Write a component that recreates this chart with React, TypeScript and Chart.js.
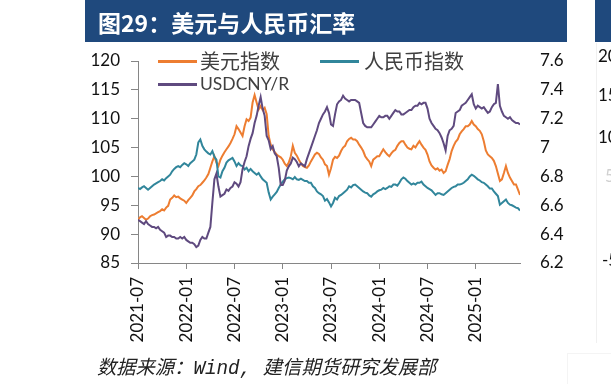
import React, { useEffect, useRef } from "react";
import { Chart, registerables } from "chart.js";

Chart.register(...registerables);

// x-axis tick labels, one every 6 months starting 2021-07
const TICK_LABELS = ["2021-07", "2022-01", "2022-07", "2023-01", "2023-07", "2024-01", "2024-07", "2025-01"];
const MONTHS_PER_TICK = 6;
const POINTS_PER_MONTH = 4; // weekly samples
const X_MAX_MONTHS = 47.5;

const LEFT_TICKS = { min: 85, max: 120, step: 5 };
const RIGHT_TICKS = { min: 6.2, max: 7.6, step: 0.2 };

// 美元指数 (left axis), weekly
const USD_INDEX = [
  92.5, 92.9, 93.1, 92.8, 92.5, 92.7, 93.1, 93.3, 93.4, 93.6, 93.8, 94.0,
  94.3, 94.1, 94.6, 94.9, 96.0, 96.3, 96.7, 96.4, 96.5, 96.2, 96.0, 95.8,
  95.4, 95.9, 96.3, 96.7, 97.4, 97.8, 98.3, 98.5, 98.9, 99.3, 99.8, 100.4,
  101.5, 102.6, 103.5, 102.4, 101.8, 102.9, 103.6, 104.2, 104.7, 105.2, 105.8, 106.5,
  107.3, 108.7, 108.2, 107.6, 107.0, 108.7, 109.9, 109.6, 110.2, 112.8, 114.1, 112.8,
  111.6, 112.2, 111.5, 111.9, 110.8, 107.0, 105.5, 104.7, 104.2, 103.8, 103.5, 103.3,
  102.9, 102.2, 101.8, 102.4, 103.5, 105.3, 104.1, 103.6, 102.9, 102.3, 101.8, 101.6,
  101.5, 101.9, 102.6, 103.2, 103.8, 104.1, 103.9, 103.3, 102.9, 102.1, 101.8, 100.3,
  101.4, 102.9, 103.4, 103.2, 103.6, 104.4, 105.0, 105.3, 106.1, 106.5, 106.7, 106.4,
  106.4, 106.1, 105.5, 105.0, 104.4, 103.5, 103.0, 102.6, 101.8, 102.9, 103.2, 103.5,
  103.5, 104.1, 104.7, 104.2, 103.8, 103.5, 104.0, 104.4, 104.6, 105.3, 105.8, 106.1,
  106.1, 105.5, 105.0, 104.8, 104.7, 105.3, 105.0, 105.6, 106.1, 105.5, 105.0, 104.6,
  103.8, 102.6, 101.9, 101.5, 101.2, 101.4, 101.0, 101.2, 100.6, 100.9, 102.0, 103.0,
  104.4, 105.3, 106.0, 106.4, 107.3, 107.8, 108.2, 108.7, 108.7, 109.0, 109.6, 109.0,
  108.7, 108.2, 107.9, 107.3, 106.1, 104.5, 103.8, 103.5, 103.2, 102.7, 101.8, 100.5,
  99.2, 99.5, 100.6, 101.8, 100.6, 99.8, 99.2, 98.6, 98.6, 97.7, 96.8,
];

// 人民币指数 (left axis), weekly
const RMB_INDEX = [
  98.0, 97.8, 98.1, 98.3, 98.0, 97.7, 98.0, 98.3, 98.6, 98.8, 99.0, 99.2,
  99.5, 99.3, 99.7, 100.0, 100.3, 100.9, 101.3, 101.6, 101.8, 101.6, 102.0, 102.3,
  102.1, 101.8, 102.3, 102.6, 102.9, 103.8, 105.9, 106.4, 105.3, 104.7, 104.3, 104.0,
  103.8, 104.4, 103.4, 102.9, 100.0, 99.8, 100.9, 101.5, 102.4, 102.8, 103.0, 103.2,
  102.6, 101.8, 102.3, 101.9, 101.8, 101.2, 101.5, 100.9, 101.3, 100.9, 100.6, 100.3,
  100.6, 100.0, 99.5, 99.2, 98.9, 97.2, 96.0, 96.5, 96.9, 97.3, 98.0, 98.6,
  99.1, 99.5, 99.7, 99.8, 99.7, 99.5, 99.9, 99.5, 99.4, 99.6, 99.4, 99.2,
  99.2, 98.9, 98.9, 98.3, 98.0, 97.4, 97.1, 96.9, 96.6, 95.8, 96.1, 95.5,
  94.8, 95.4, 96.3, 96.0, 96.6, 96.8, 97.1, 97.4, 97.7, 98.3, 98.1, 98.5,
  98.6, 98.3, 98.0, 97.7, 97.4, 97.2, 97.1, 96.7, 96.5, 96.9, 97.1, 97.4,
  97.6, 97.7, 98.0, 97.8, 98.0, 98.3, 98.2, 98.6, 98.6, 98.4, 98.9, 99.5,
  99.8, 99.6, 99.2, 98.9, 98.6, 98.8, 98.6, 98.9, 98.9, 99.1, 98.6, 98.3,
  98.0, 97.8, 97.6, 97.2, 96.8, 97.1, 97.1, 96.9, 96.8, 97.1, 97.4, 97.7,
  98.0, 98.2, 98.3, 98.6, 98.6, 98.7, 98.9, 99.2, 99.5, 100.0, 100.3, 100.1,
  99.8, 99.5, 99.3, 99.0, 98.9, 98.6, 98.3, 97.9, 97.9, 97.4, 97.0, 96.6,
  95.1, 95.4, 95.7, 96.0, 95.4, 95.1, 95.0, 94.8, 94.6, 94.5, 94.1,
];

// USDCNY/R (right axis), weekly
const USDCNY = [
  6.50, 6.49, 6.48, 6.47, 6.49, 6.47, 6.46, 6.45, 6.45, 6.44, 6.45, 6.43,
  6.42, 6.41, 6.38, 6.39, 6.39, 6.38, 6.38, 6.37, 6.37, 6.38, 6.37, 6.38,
  6.36, 6.35, 6.34, 6.34, 6.33, 6.31, 6.32, 6.36, 6.38, 6.37, 6.37, 6.41,
  6.45, 6.62, 6.78, 6.82, 6.73, 6.66, 6.67, 6.68, 6.71, 6.70, 6.72, 6.73,
  6.76, 6.75, 6.73, 6.76, 6.85, 6.90, 6.94, 7.01, 7.06, 7.10, 7.17, 7.22,
  7.29, 7.35, 7.27, 7.22, 7.08, 7.05, 6.99, 7.01, 6.96, 6.94, 6.86, 6.74,
  6.74, 6.77, 6.84, 6.87, 6.89, 6.93, 6.92, 6.90, 6.87, 6.89, 6.88, 6.87,
  6.92, 6.96, 7.00, 7.04, 7.08, 7.12, 7.17, 7.20, 7.23, 7.25, 7.28, 7.24,
  7.16, 7.15, 7.23, 7.30, 7.32, 7.33, 7.36, 7.34, 7.33, 7.32, 7.33, 7.33,
  7.33, 7.32, 7.31, 7.24, 7.17, 7.15, 7.14, 7.14, 7.14, 7.16, 7.18, 7.20,
  7.22, 7.21, 7.21, 7.22, 7.22, 7.20, 7.22, 7.24, 7.26, 7.25, 7.25, 7.23,
  7.23, 7.24, 7.25, 7.26, 7.26, 7.28, 7.29, 7.29, 7.31, 7.30, 7.31, 7.31,
  7.27, 7.20, 7.17, 7.15, 7.13, 7.12, 7.10, 7.07, 7.03, 6.98, 7.08, 7.12,
  7.13, 7.15, 7.24, 7.25, 7.26, 7.29, 7.30, 7.31, 7.33, 7.35, 7.37, 7.30,
  7.27, 7.29, 7.28, 7.27, 7.28, 7.26, 7.24, 7.25, 7.28, 7.30, 7.31, 7.44,
  7.29, 7.25, 7.22, 7.21, 7.20, 7.21, 7.19, 7.18, 7.17, 7.17, 7.16,
];

// neighbouring (cropped) chart's axis labels on the right edge
const NEXT_CHART_LABELS = ["20", "15", "10", "5", "-5"];

const ORANGE = "#ED7D31";
const TEAL = "#31869B";
const PURPLE = "#5F4A7F";
const NAVY = "#1F497D";
const AXIS_GREY = "#868686";
const TICK_FONT = "Lato, 'Noto Sans', 'Noto Sans CJK SC', sans-serif";
const CJK_FONT = "'Noto Sans CJK SC', 'Noto Sans', sans-serif";

export default function App() {
  const canvasRef = useRef<HTMLCanvasElement | null>(null);

  useEffect(() => {
    document.body.style.margin = "0";
    const canvas = canvasRef.current;
    if (!canvas) return;
    const toPoints = (arr: number[]) => arr.map((v, i) => ({ x: i / POINTS_PER_MONTH, y: v }));

    const chart = new Chart(canvas, {
      type: "line",
      data: {
        datasets: [
          { label: "美元指数", data: toPoints(USD_INDEX), borderColor: ORANGE, backgroundColor: ORANGE, yAxisID: "y", order: 3 },
          { label: "人民币指数", data: toPoints(RMB_INDEX), borderColor: TEAL, backgroundColor: TEAL, yAxisID: "y", order: 2 },
          { label: "USDCNY/R", data: toPoints(USDCNY), borderColor: PURPLE, backgroundColor: PURPLE, yAxisID: "y1", order: 1 },
        ],
      },
      options: {
        animation: false,
        responsive: false,
        maintainAspectRatio: false,
        devicePixelRatio: 1,
        layout: { padding: { top: 61, left: 0, right: 0, bottom: 0 } },
        plugins: { legend: { display: false }, tooltip: { enabled: false }, title: { display: false } },
        elements: {
          point: { radius: 0, hoverRadius: 0 },
          line: { borderWidth: 2, tension: 0 },
        },
        scales: {
          x: {
            type: "linear",
            min: 0,
            max: X_MAX_MONTHS,
            afterBuildTicks: (scale: any) => {
              scale.ticks = TICK_LABELS.map((_, i) => ({ value: i * MONTHS_PER_TICK }));
            },
            afterFit: (scale: any) => {
              scale.height = 121;
            },
            grid: { display: true, drawOnChartArea: false, drawTicks: true, tickLength: 6, color: AXIS_GREY },
            border: { display: true, color: AXIS_GREY, width: 1 },
            ticks: {
              autoSkip: false,
              maxRotation: 90,
              minRotation: 90,
              padding: 8,
              color: "#111",
              font: { family: TICK_FONT, size: 17 },
              callback: (v: any) => TICK_LABELS[Math.round(Number(v) / MONTHS_PER_TICK)] ?? "",
            },
          },
          y: {
            type: "linear",
            position: "left",
            min: LEFT_TICKS.min,
            max: LEFT_TICKS.max,
            afterFit: (scale: any) => {
              scale.width = 138;
            },
            grid: { display: true, drawOnChartArea: false, drawTicks: true, tickLength: 7, color: AXIS_GREY },
            border: { display: true, color: AXIS_GREY, width: 1 },
            ticks: {
              stepSize: LEFT_TICKS.step,
              padding: 11,
              color: "#111",
              font: { family: TICK_FONT, size: 17 },
            },
          },
          y1: {
            type: "linear",
            position: "right",
            min: RIGHT_TICKS.min,
            max: RIGHT_TICKS.max,
            afterFit: (scale: any) => {
              scale.width = 91;
            },
            grid: { display: false, drawOnChartArea: false, drawTicks: false },
            border: { display: false },
            ticks: {
              stepSize: RIGHT_TICKS.step,
              padding: 20,
              color: "#111",
              font: { family: TICK_FONT, size: 17 },
              callback: (v: any) => String(parseFloat(Number(v).toFixed(1))),
            },
          },
        },
      },
    });
    return () => chart.destroy();
  }, []);

  const abs = (s: React.CSSProperties): React.CSSProperties => ({ position: "absolute", ...s });

  return (
    <div style={{ position: "relative", width: 611, height: 384, overflow: "hidden", background: "#fff" }}>
      <canvas ref={canvasRef} width={611} height={384} style={abs({ left: 0, top: 0, width: 611, height: 384 })} />

      {/* title bar */}
      <div style={abs({ left: 85, top: 0, width: 482, height: 42, background: NAVY })} />
      <div
        style={abs({
          left: 98,
          top: 1,
          height: 42,
          lineHeight: "42px",
          color: "#fff",
          fontFamily: CJK_FONT,
          fontWeight: 700,
          fontSize: 23,
          whiteSpace: "nowrap",
        })}
      >
        图29：美元与人民币汇率
      </div>

      {/* legend */}
      <div style={abs({ left: 158, top: 60, width: 39, height: 2.5, background: ORANGE })} />
      <div style={abs({ left: 200, top: 49, lineHeight: "24px", fontSize: 20, fontFamily: CJK_FONT, color: "#404040", whiteSpace: "nowrap" })}>
        美元指数
      </div>
      <div style={abs({ left: 320, top: 60, width: 39, height: 2.5, background: TEAL })} />
      <div style={abs({ left: 364, top: 49, lineHeight: "24px", fontSize: 20, fontFamily: CJK_FONT, color: "#404040", whiteSpace: "nowrap" })}>
        人民币指数
      </div>
      <div style={abs({ left: 158, top: 83, width: 39, height: 2.5, background: PURPLE })} />
      <div style={abs({ left: 200, top: 72, lineHeight: "24px", fontSize: 17.5, fontFamily: TICK_FONT, color: "#404040", whiteSpace: "nowrap" })}>
        USDCNY/R
      </div>

      {/* source note */}
      <div
        style={abs({
          left: 97,
          top: 354,
          lineHeight: "24px",
          fontSize: 19.3,
          fontStyle: "italic",
          fontWeight: 400,
          fontFamily: CJK_FONT,
          color: "#222",
          whiteSpace: "nowrap",
        })}
      >
        数据来源：<span style={{ fontFamily: "'Liberation Mono', 'DejaVu Sans Mono', monospace" }}>Wind, </span>建信期货研究发展部
      </div>

      {/* neighbouring chart fragment at right edge */}
      <div style={abs({ left: 595, top: 0, width: 16, height: 42, background: NAVY })} />
      <div style={abs({ left: 596, top: 43, width: 1, height: 300, background: "#f0f0f0" })} />
      <div style={abs({ left: 567, top: 353, width: 44, height: 1, background: "#f4f4f4" })} />
      <div style={abs({ left: 567, top: 353, width: 1, height: 31, background: "#f4f4f4" })} />
      {NEXT_CHART_LABELS.map((t, i) => {
        const tops = [45, 84, 126, 165, 249];
        const lefts = [598, 598, 598, 605, 602];
        return (
          <div
            key={t}
            style={abs({
              left: lefts[i],
              top: tops[i],
              lineHeight: "22px",
              fontSize: 17,
              fontFamily: TICK_FONT,
              color: t === "5" ? "#d0d0d0" : "#111",
              whiteSpace: "nowrap",
            })}
          >
            {t}
          </div>
        );
      })}
    </div>
  );
}
